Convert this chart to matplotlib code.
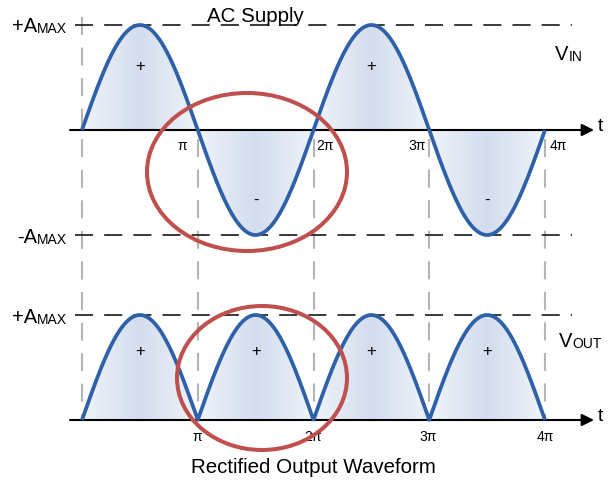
#!/usr/bin/env python3
# -*- coding: utf-8 -*-
import numpy as np
import matplotlib
matplotlib.use('Agg')
import matplotlib.pyplot as plt
from matplotlib.patches import Ellipse
from matplotlib.colors import LinearSegmentedColormap

plt.rcParams['font.family'] = ['Liberation Sans', 'DejaVu Sans']
plt.rcParams['lines.scale_dashes'] = False

# waveform description
amplitude = 1.0
half_cycles = 4
tick_labels = ['π', '2π', '3π', '4π']
input_signs = ['+', '-', '+', '-']
output_signs = ['+', '+', '+', '+']
title_top = 'AC Supply'
title_bottom = 'Rectified Output Waveform'

# pixel layout of the drawing (610 x 489 canvas)
W, H = 610, 489
X0, X4 = 82, 545          # t = 0 and t = 4pi
Y_TOP, Y_BOT = 131, 421   # baselines of the two traces
UNIT = 105                # pixels per amplitude unit
sx = (X4 - X0) / (half_cycles * np.pi)


def px(x, y):
	"""pixel position -> data position (top trace baseline is y = 0)"""
	return (x - X0) / sx, (Y_TOP - y) / UNIT


off = (Y_BOT - Y_TOP) / UNIT  # vertical offset of the output trace

fig = plt.figure(figsize=(W / 100, H / 100), dpi=100)
ax = fig.add_axes([0, 0, 1, 1])
ax.axis('off')

t = np.linspace(0, half_cycles * np.pi, 1200)
v_in = amplitude * np.sin(t)
v_out = np.abs(v_in) - off

cmap = LinearSegmentedColormap.from_list('lobe', ['#f0f4fa', '#d3ddee', '#f0f4fa'])
grad = np.linspace(0, 1, 200).reshape(1, -1)

blue = '#2e61a8'
grey = '#b5b5b5'

# grey guide lines
ax.plot(*zip(px(X0, 18), px(X0, Y_BOT)), color=grey, lw=1.5, dashes=(13, 9), zorder=1)
for k in range(1, half_cycles + 1):
	x = k * np.pi
	ax.plot([x, x], [px(0, 140)[1], -off], color=grey, lw=1.5, dashes=(13, 9), zorder=1)

# black dashed amplitude lines
for yy in [amplitude, -amplitude, amplitude - off]:
	ax.plot([px(75, 0)[0], px(572, 0)[0]], [yy, yy], color='#2a2a2a', lw=1.3,
			dashes=(13, 8), zorder=1)


def shade(y, base):
	for k in range(half_cycles):
		m = (t >= k * np.pi) & (t <= (k + 1) * np.pi)
		poly = ax.fill_between(t[m], y[m], base, facecolor='none', edgecolor='none')
		lo, hi = min(y[m].min(), base), max(y[m].max(), base)
		im = ax.imshow(grad, cmap=cmap, aspect='auto', extent=(k * np.pi, (k + 1) * np.pi, lo, hi),
					   zorder=2, interpolation='bilinear')
		im.set_clip_path(poly.get_paths()[0], transform=ax.transData)


shade(v_in, 0)
shade(v_out, -off)
ax.set_xlim(px(0, 0)[0], px(W, 0)[0])
ax.set_ylim(px(0, H)[1], px(0, 0)[1])

# time axes with arrows
for base in [0, -off]:
	ax.annotate('', xy=(px(594, 0)[0], base), xytext=(px(70, 0)[0], base),
				arrowprops=dict(arrowstyle='-|>', lw=1.5, color='black', mutation_scale=18,
								shrinkA=0, shrinkB=0), zorder=3)
	ax.text(px(598, 0)[0], base + 0.04, 't', fontsize=14, ha='left', va='center', zorder=5)

ax.plot(t, v_in, color=blue, lw=2.7, zorder=4, solid_capstyle='butt')
ax.plot(t, v_out, color=blue, lw=2.7, zorder=4, solid_capstyle='butt')

# signs inside lobes
for k, s in enumerate(input_signs):
	yy = 0.61 if s == '+' else -0.66
	ax.text((k + 0.5) * np.pi, yy, s, fontsize=12, ha='center', va='center', zorder=5)
for k, s in enumerate(output_signs):
	ax.text((k + 0.5) * np.pi, 0.66 - off, s, fontsize=12, ha='center', va='center', zorder=5)

# pi tick labels
top_x = [182, 325, 417, 558]
bot_x = [197, 313, 428, 545]
for lab, xa, xb in zip(tick_labels, top_x, bot_x):
	ax.text(px(xa, 0)[0], px(0, 146)[1], lab, fontsize=10, ha='center', va='center', zorder=5)
	ax.text(px(xb, 0)[0], px(0, 437)[1], lab, fontsize=10, ha='center', va='center', zorder=5)


def sub_label(x, y, main, sub, big=14.5, small=10):
	t1 = ax.text(*px(x, y), main, fontsize=big, ha='left', va='center', zorder=5)
	ax.annotate(sub, xy=(1, 0), xycoords=t1, fontsize=small, ha='left', va='bottom', zorder=5)


sub_label(12, 27, '+A', 'MAX')
sub_label(17, 238, '-A', 'MAX')
sub_label(12, 318, '+A', 'MAX')
sub_label(555, 55, 'V', 'IN')
sub_label(559, 342, 'V', 'OUT')

ax.text(*px(255, 17), title_top, fontsize=14.8, ha='center', va='center', zorder=5)
ax.text(*px(313, 468), title_bottom, fontsize=14.8, ha='center', va='center', zorder=5)

# red highlight ellipses
red = '#c0504d'
for (cx, cy, w, h) in [(247, 173, 200, 158), (262, 379, 170, 144)]:
	e = Ellipse(px(cx, cy), w / sx, h / UNIT, fill=False, edgecolor=red, lw=2.9, zorder=6)
	ax.add_patch(e)

fig.savefig('out.png', dpi=100)
plt.close(fig)
